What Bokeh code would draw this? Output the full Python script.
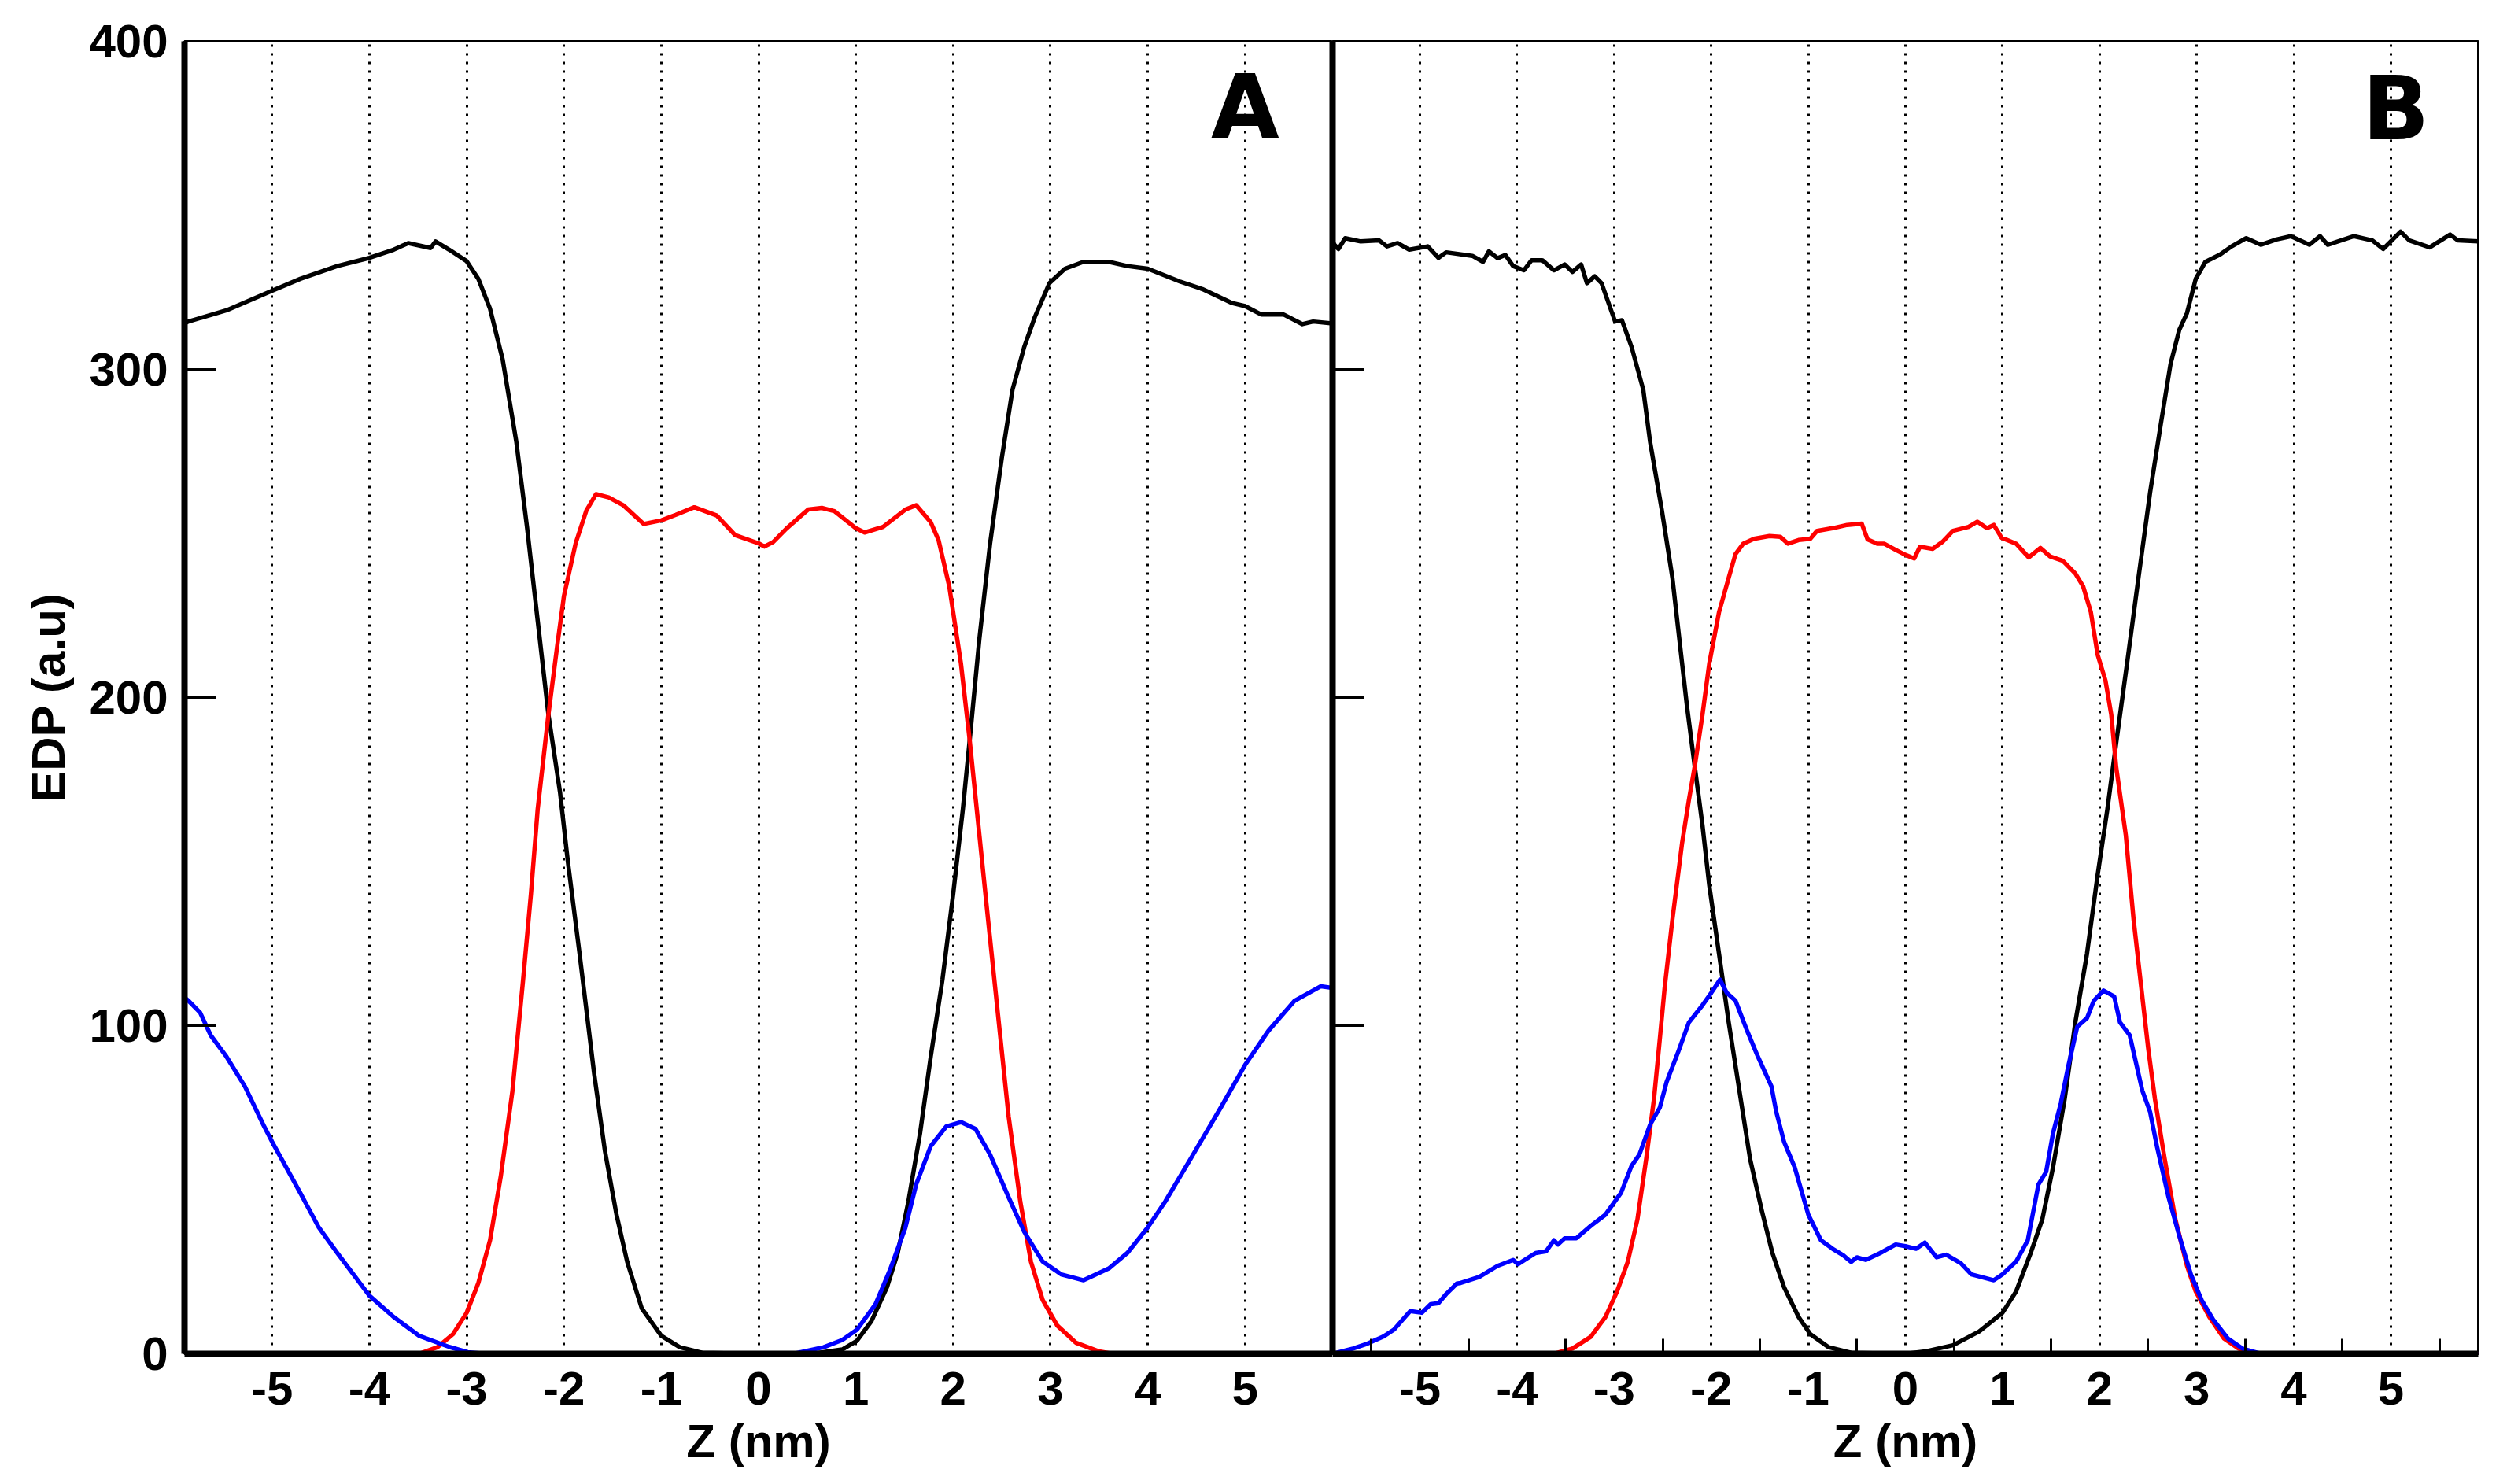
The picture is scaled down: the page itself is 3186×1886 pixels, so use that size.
from bokeh.plotting import figure
from bokeh.layouts import row
from bokeh.models import LinearAxis, FixedTicker, Range1d, Label
from bokeh.embed import file_html
from bokeh.resources import INLINE

# ---------------- data (z in nm, EDP in a.u.) ----------------
A_BLACK = [(-5.9, 314), (-5.86, 314.6), (-5.47, 318), (-5.0, 324), (-4.71, 327.6), (-4.33, 331.5),
           (-4.0, 334), (-3.75, 336.5), (-3.6, 338.5), (-3.37, 337), (-3.32, 339), (-3.18, 336.5),
           (-3.0, 333), (-2.88, 327.6), (-2.76, 318.5), (-2.63, 303), (-2.49, 278), (-2.38, 252),
           (-2.27, 223.4), (-2.16, 194.8), (-2.04, 171), (-1.96, 150), (-1.84, 122), (-1.69, 85.4),
           (-1.58, 62), (-1.46, 42.4), (-1.35, 28), (-1.2, 13.8), (-1.0, 5.5), (-0.81, 2), (-0.58, 0.3),
           (0.0, 0), (0.55, 0), (0.86, 1.3), (1.01, 3.9), (1.16, 9.9), (1.32, 20.3), (1.43, 30.7),
           (1.54, 46.4), (1.66, 67.2), (1.77, 90.6), (1.89, 114), (2.0, 140), (2.1, 166), (2.17, 187),
           (2.27, 218), (2.38, 247), (2.5, 273), (2.61, 293.8), (2.73, 306.8), (2.84, 316), (2.99, 326.3),
           (3.15, 330.7), (3.34, 332.8), (3.6, 332.8), (3.79, 331.5), (4.0, 330.7), (4.33, 326.8),
           (4.56, 324.5), (4.86, 320.3), (5.0, 319.3), (5.17, 316.7), (5.4, 316.7), (5.59, 313.8),
           (5.7, 314.6), (5.9, 314)]

A_RED = [(-5.9, 0), (-3.49, 0), (-3.3, 2), (-3.14, 6), (-3.0, 12.5), (-2.88, 21.6), (-2.76, 34.6),
         (-2.65, 54), (-2.53, 80), (-2.42, 114), (-2.34, 140), (-2.27, 166), (-2.16, 194.8),
         (-2.07, 215.6), (-2.0, 231), (-1.88, 247), (-1.77, 257), (-1.67, 262), (-1.54, 261),
         (-1.39, 258.6), (-1.18, 252.9), (-1.0, 254), (-0.85, 255.7), (-0.66, 258), (-0.43, 255.5),
         (-0.24, 249.5), (0.0, 247), (0.06, 246), (0.15, 247.4), (0.29, 251.6), (0.51, 257.3),
         (0.65, 257.8), (0.78, 256.8), (1.0, 251.6), (1.09, 250.3), (1.28, 252), (1.51, 257.3),
         (1.62, 258.6), (1.77, 253.4), (1.85, 248), (1.96, 233.9), (2.08, 210.4), (2.17, 187),
         (2.27, 158), (2.36, 132), (2.46, 103.6), (2.57, 72.4), (2.69, 46.4), (2.8, 28),
         (2.92, 16.4), (3.07, 8.6), (3.26, 3.4), (3.49, 0.8), (3.64, 0), (5.9, 0)]

A_BLUE = [(-5.9, 108.5), (-5.86, 107.6), (-5.74, 104), (-5.63, 97), (-5.47, 90.6), (-5.28, 81.5),
          (-5.09, 69.8), (-5.0, 64.6), (-4.71, 49), (-4.52, 38.5), (-4.33, 30.7), (-4.0, 17.7),
          (-3.75, 11.2), (-3.49, 5.5), (-3.18, 2.1), (-2.99, 0.5), (-2.8, 0), (0.36, 0), (0.67, 2),
          (0.86, 4.2), (1.01, 7.3), (1.2, 15), (1.35, 25.5), (1.51, 38.5), (1.62, 51.6), (1.77, 63.3),
          (1.93, 69.3), (2.08, 70.6), (2.23, 68.5), (2.38, 60.7), (2.57, 47.7), (2.73, 37.2),
          (2.92, 28.1), (3.11, 24.2), (3.34, 22.4), (3.6, 26), (3.79, 30.7), (4.0, 38.5), (4.18, 46.4),
          (4.44, 59.4), (4.75, 75), (5.0, 88), (5.24, 98.4), (5.51, 107.6), (5.78, 112), (5.9, 111.5)]

B_BLACK = [(-5.9, 339), (-5.88, 338), (-5.84, 336.7), (-5.77, 340), (-5.61, 339), (-5.42, 339.3),
           (-5.34, 337.5), (-5.23, 338.5), (-5.11, 336.5), (-4.92, 337.5), (-4.81, 334), (-4.73, 335.7),
           (-4.46, 334.6), (-4.35, 332.8), (-4.29, 336), (-4.2, 333.9), (-4.12, 334.9), (-4.04, 331.5),
           (-3.93, 330.2), (-3.85, 333.3), (-3.74, 333.3), (-3.62, 330.2), (-3.51, 332), (-3.43, 329.7),
           (-3.34, 332), (-3.28, 326.3), (-3.2, 328.4), (-3.13, 326.3), (-2.99, 314.6), (-2.92, 315),
           (-2.82, 306.8), (-2.7, 293.8), (-2.63, 278), (-2.51, 257.3), (-2.4, 236.5), (-2.34, 220.8),
           (-2.25, 197.4), (-2.17, 179), (-2.09, 161), (-2.02, 142.7), (-1.92, 121.9), (-1.82, 101),
           (-1.71, 80.2), (-1.6, 59.4), (-1.48, 43.75), (-1.37, 30.7), (-1.25, 20.3), (-1.1, 11.2),
           (-0.98, 6), (-0.79, 2), (-0.56, 0.3), (0.0, 0), (0.22, 0.8), (0.49, 2.6), (0.76, 6.8),
           (1.0, 12.5), (1.14, 19), (1.29, 30.7), (1.41, 41), (1.52, 56.8), (1.64, 77.6), (1.75, 101),
           (1.87, 121.9), (1.98, 146), (2.08, 166), (2.17, 186), (2.29, 212), (2.4, 236.5), (2.52, 262.5),
           (2.63, 283.3), (2.73, 301.6), (2.82, 312), (2.9, 317.2), (2.99, 327.6), (3.09, 332.8),
           (3.24, 335), (3.36, 337.5), (3.51, 340), (3.66, 338), (3.82, 339.6), (3.97, 340.6),
           (4.16, 338), (4.27, 340.6), (4.35, 338), (4.62, 340.6), (4.81, 339.3), (4.92, 336.7),
           (5.1, 342), (5.19, 339.3), (5.4, 337.2), (5.61, 341.1), (5.69, 339.3), (5.9, 339)]

B_RED = [(-5.9, 0), (-3.62, 0), (-3.43, 1.6), (-3.24, 5.2), (-3.09, 11.2), (-2.97, 19), (-2.86, 28),
         (-2.76, 41), (-2.67, 59.4), (-2.59, 77.6), (-2.53, 95.8), (-2.48, 111.5), (-2.4, 132.3),
         (-2.3, 155.7), (-2.23, 168.8), (-2.17, 179), (-2.09, 194.8), (-2.02, 210.4), (-1.92, 226),
         (-1.82, 236.5), (-1.75, 243.75), (-1.67, 246.9), (-1.56, 248.4), (-1.4, 249.2), (-1.29, 249),
         (-1.21, 246.9), (-1.1, 248), (-0.98, 248.4), (-0.91, 250.8), (-0.75, 251.6), (-0.6, 252.6),
         (-0.45, 253), (-0.39, 248.2), (-0.29, 246.9), (-0.22, 246.9), (-0.1, 245), (0.0, 243.5),
         (0.09, 242.4), (0.15, 246), (0.28, 245.3), (0.38, 247.4), (0.49, 250.8), (0.65, 252),
         (0.74, 253.6), (0.84, 251.6), (0.91, 252.6), (0.99, 248.7), (1.14, 246.9), (1.27, 242.7),
         (1.39, 245.6), (1.49, 243), (1.62, 241.7), (1.75, 237.8), (1.83, 233.9), (1.91, 226),
         (1.98, 213), (2.06, 205.2), (2.12, 194.8), (2.17, 179), (2.27, 158), (2.35, 132.3),
         (2.42, 114), (2.5, 93.2), (2.57, 77.6), (2.67, 59.4), (2.78, 41), (2.9, 26.8), (2.99, 19),
         (3.13, 11.2), (3.28, 4.7), (3.43, 1.6), (3.62, 0), (5.9, 0)]

B_BLUE = [(-5.9, 0), (-5.69, 1.6), (-5.54, 3.1), (-5.38, 5.2), (-5.27, 7.3), (-5.1, 13), (-4.98, 12.5),
          (-4.89, 15.1), (-4.81, 15.4), (-4.73, 18.2), (-4.62, 21.4), (-4.58, 21.6), (-4.39, 23.4),
          (-4.2, 26.8), (-4.04, 28.6), (-3.99, 27.3), (-3.81, 30.7), (-3.7, 31.25), (-3.62, 34.6),
          (-3.58, 33.3), (-3.51, 35.2), (-3.39, 35.2), (-3.24, 39), (-3.09, 42.4), (-2.93, 49),
          (-2.82, 57.3), (-2.74, 60.7), (-2.63, 69.8), (-2.53, 75), (-2.46, 82.8), (-2.34, 92),
          (-2.23, 101), (-2.09, 106.25), (-2.0, 110), (-1.91, 114), (-1.84, 110), (-1.75, 107.6),
          (-1.63, 98.4), (-1.52, 90.6), (-1.38, 81.5), (-1.33, 73.7), (-1.25, 64.6), (-1.14, 56.8),
          (-1.0, 42.4), (-0.87, 34.6), (-0.75, 32), (-0.64, 30), (-0.56, 28), (-0.5, 29.4),
          (-0.41, 28.6), (-0.26, 30.7), (-0.1, 33.3), (0.0, 32.8), (0.11, 32), (0.2, 33.9), (0.32, 29.4),
          (0.42, 30.2), (0.57, 27.6), (0.68, 24.2), (0.91, 22.4), (1.0, 24.2), (1.14, 28.1), (1.26, 34.6),
          (1.37, 51.6), (1.45, 55.5), (1.52, 67.2), (1.6, 76.3), (1.68, 88), (1.77, 99.7), (1.87, 102.3),
          (1.94, 107.6), (2.04, 110.7), (2.15, 108.9), (2.21, 101), (2.31, 97.1), (2.44, 80.2),
          (2.52, 73.7), (2.59, 63.3), (2.71, 47.7), (2.82, 36), (2.94, 24.2), (3.05, 16.4), (3.17, 10.4),
          (3.32, 4.7), (3.47, 1.6), (3.66, 0), (5.9, 0)]

Z_TICKS = [-5, -4, -3, -2, -1, 0, 1, 2, 3, 4, 5]
Z_TICK_LABELS = ["-5", "-4", "-3", "-2", "-1", "0", "1", "2", "3", "4", "5"]
Z_HALF_TICKS = [-5.5, -4.5, -3.5, -2.5, -1.5, -0.5, 0.5, 1.5, 2.5, 3.5, 4.5, 5.5]
EDP_TICKS = [0, 100, 200, 300, 400]
Z_RANGE = (-5.9, 5.9)
EDP_RANGE = (0, 400)
PANEL_LABELS = ["A", "B"]

FONT = "Liberation Sans"
FS = "60px"
H = 1878
TOP = 52
BOTTOM = 158


def make_panel(width, min_left, min_right, show_y_labels, half_ticks):
    p = figure(width=width, height=H, x_range=Range1d(*Z_RANGE), y_range=Range1d(*EDP_RANGE),
               output_backend="svg", toolbar_location=None,
               min_border_left=min_left, min_border_right=min_right,
               min_border_top=TOP, min_border_bottom=BOTTOM)
    p.background_fill_color = "white"
    p.border_fill_color = "white"
    p.outline_line_color = "black"
    p.outline_line_width = 3

    xa = p.xaxis[0]
    xa.ticker = FixedTicker(ticks=Z_TICKS, minor_ticks=Z_HALF_TICKS if half_ticks else [])
    xa.major_label_overrides = {t: s for t, s in zip(Z_TICKS, Z_TICK_LABELS)}
    xa.axis_line_width = 8
    xa.axis_line_color = "black"
    xa.major_tick_in = 0
    xa.major_tick_out = 0
    xa.minor_tick_out = 0
    xa.minor_tick_in = 19 if half_ticks else 0
    xa.minor_tick_line_width = 3
    xa.minor_tick_line_color = "black"
    xa.major_label_text_font = FONT
    xa.major_label_text_font_style = "bold"
    xa.major_label_text_font_size = FS
    xa.major_label_text_color = "black"
    xa.major_label_standoff = 23
    xa.axis_label = "Z (nm)"
    xa.axis_label_text_font = FONT
    xa.axis_label_text_font_style = "bold"
    xa.axis_label_text_font_size = FS
    xa.axis_label_text_color = "black"
    xa.axis_label_standoff = 10

    ya = p.yaxis[0]
    ya.axis_line_width = 8
    ya.axis_line_color = "black"
    ya.major_tick_out = 0
    ya.minor_tick_out = 0
    if show_y_labels:
        ya.ticker = FixedTicker(ticks=EDP_TICKS, minor_ticks=[])
        ya.major_tick_in = 40
        ya.major_tick_line_width = 3
        ya.major_tick_line_color = "black"
        ya.minor_tick_in = 0
        ya.major_label_text_font = FONT
        ya.major_label_text_font_style = "bold"
        ya.major_label_text_font_size = FS
        ya.major_label_text_color = "black"
        ya.major_label_standoff = 21
        ya.axis_label = "EDP (a.u)"
        ya.axis_label_text_font = FONT
        ya.axis_label_text_font_style = "bold"
        ya.axis_label_text_font_size = FS
        ya.axis_label_text_color = "black"
        ya.axis_label_standoff = 15
    else:
        # tick marks only (drawn as minor ticks, so no labels are produced)
        ya.ticker = FixedTicker(ticks=[], minor_ticks=EDP_TICKS)
        ya.major_tick_in = 0
        ya.minor_tick_in = 40
        ya.minor_tick_line_width = 3
        ya.minor_tick_line_color = "black"
        ya.major_label_standoff = 0

    p.xgrid.ticker = FixedTicker(ticks=Z_TICKS, minor_ticks=[])
    p.xgrid.grid_line_color = "black"
    p.xgrid.grid_line_width = 3
    p.xgrid.grid_line_dash = "3 8"
    p.ygrid.grid_line_color = None
    return p


def draw(p, series, color):
    zs = [z for z, _ in series]
    vs = [v for _, v in series]
    p.line(zs, vs, line_color=color, line_width=5.5, line_join="round")


# Panel A
pA = make_panel(1693, 234, 0, True, False)
mid = LinearAxis(ticker=FixedTicker(ticks=[], minor_ticks=[]), axis_line_width=8, axis_line_color="black",
                 major_tick_in=0, major_tick_out=0, minor_tick_in=0, minor_tick_out=0,
                 major_label_standoff=0)
pA.add_layout(mid, "right")
draw(pA, A_BLACK, "black")
draw(pA, A_RED, "#ff0000")
draw(pA, A_BLUE, "#0000ff")
pA.add_layout(Label(x=5.0, y=380, text=PANEL_LABELS[0], text_font="DejaVu Sans",
                    text_font_style="bold", text_font_size="112px", text_color="black",
                    text_align="center", text_baseline="alphabetic"))

# Panel B
pB = make_panel(1468, 0, 12, False, True)
draw(pB, B_BLACK, "black")
draw(pB, B_RED, "#ff0000")
draw(pB, B_BLUE, "#0000ff")
pB.add_layout(Label(x=5.05, y=379.5, text=PANEL_LABELS[1], text_font="DejaVu Sans",
                    text_font_style="bold", text_font_size="112px", text_color="black",
                    text_align="center", text_baseline="alphabetic"))

layout = row(pA, pB)
open("out.html", "w").write(file_html(layout, INLINE, "EDP"))
